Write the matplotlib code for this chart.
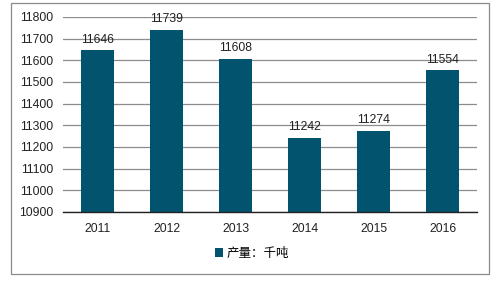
import matplotlib.pyplot as plt
from matplotlib.patches import Rectangle

plt.rcParams['font.family'] = ['Liberation Sans', 'Noto Sans CJK SC', 'DejaVu Sans']

years = ['2011', '2012', '2013', '2014', '2015', '2016']
output = [11646, 11739, 11608, 11242, 11274, 11554]
legend_label = '产量：千吨'

W, H = 494, 281
fig = plt.figure(figsize=(W / 100, H / 100), dpi=100)
ax = fig.add_axes([63 / W, 1 - 212 / H, (477 - 63) / W, (212 - 17) / H])

bar_color = '#02536d'
x = range(len(years))
ax.bar(x, output, width=0.49, color=bar_color, label=legend_label, zorder=2)
for xi, v in zip(x, output):
    ax.text(xi, v + 22, str(v), ha='center', va='bottom', fontsize=8.8, color='#222222', zorder=3)

ax.set_ylim(10900, 11800)
ax.set_xlim(-0.5, len(years) - 0.5)
ax.set_yticks(range(10900, 11801, 100))
ax.set_xticks(list(x))
ax.set_xticklabels(years)
ax.tick_params(axis='both', length=0, labelsize=8.8, colors='#222222')
ax.tick_params(axis='y', pad=7)
ax.tick_params(axis='x', pad=8)
ax.yaxis.grid(True, color='#8c8c8c', linewidth=0.9, zorder=0)
for s in ['top', 'right', 'left']:
    ax.spines[s].set_visible(False)
ax.spines['bottom'].set_color('#222222')
ax.spines['bottom'].set_linewidth(1.0)
ax.spines['bottom'].set_zorder(3)

leg = fig.legend(loc='center', bbox_to_anchor=(252 / W, 1 - 254 / H), frameon=False,
                 fontsize=9, handlelength=0.7, handleheight=0.7, handletextpad=0.3)

fig.patches.append(Rectangle((11 / W, 1 - 274 / H), (489 - 11) / W, (274 - 3) / H,
                             transform=fig.transFigure, fill=False, edgecolor='#8a8a8a',
                             linewidth=0.9))

fig.savefig('out.png', dpi=100)
